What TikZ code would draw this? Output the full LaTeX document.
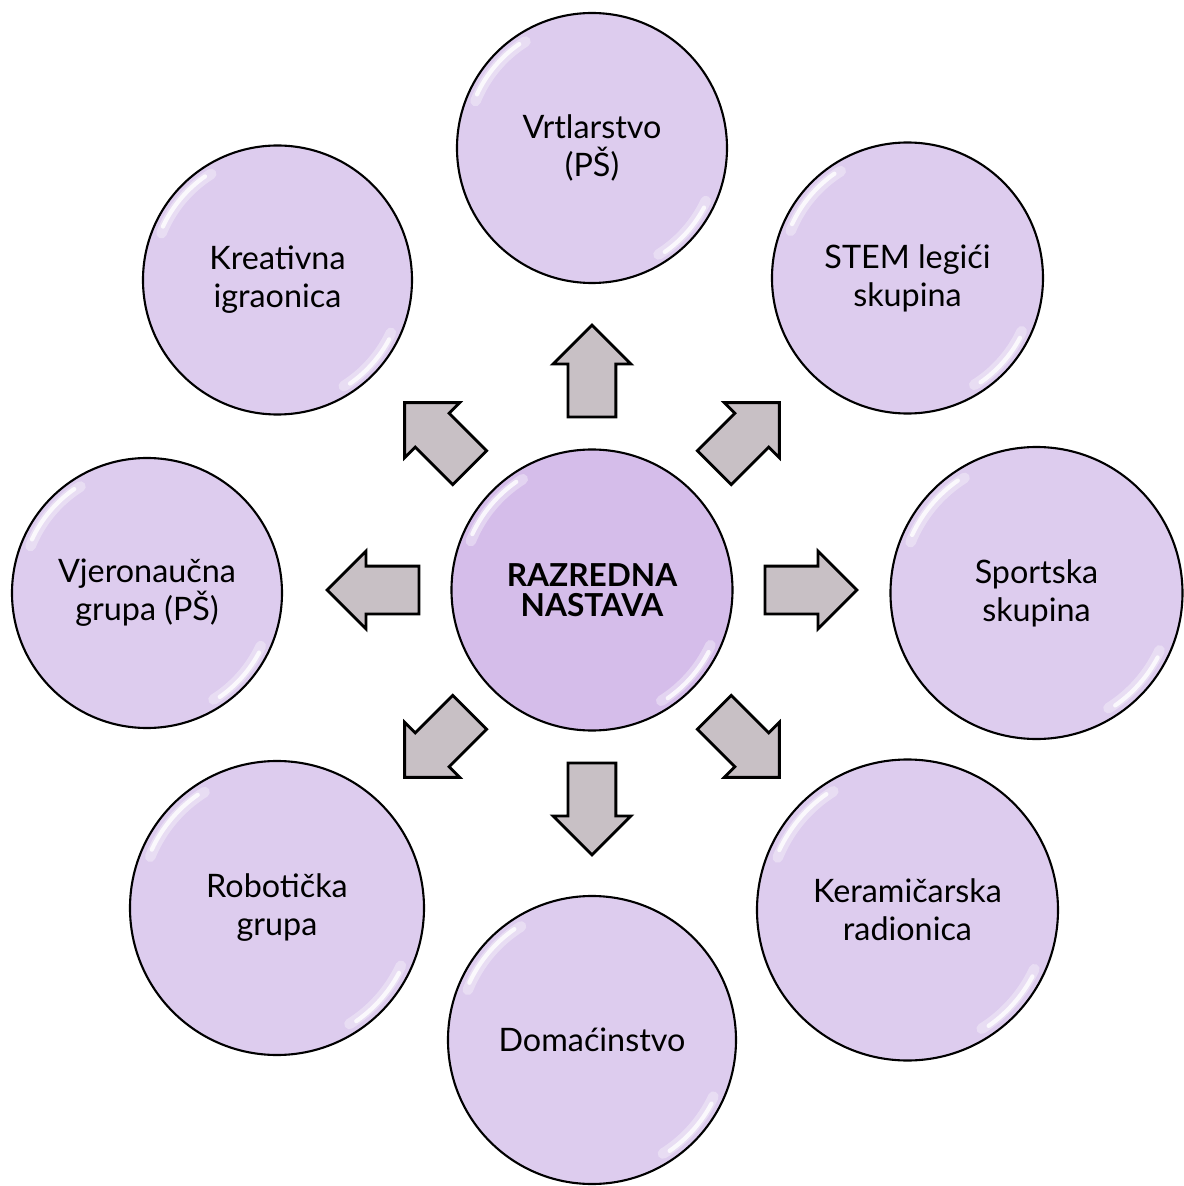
\documentclass[tikz,border=0pt]{standalone}
\usepackage{fontspec}
\setmainfont{Lato}
\usepackage{tikz}
\usetikzlibrary{shapes.arrows}
\usetikzlibrary{calc}

\definecolor{lila}{RGB}{221,204,238}
\definecolor{lilahub}{RGB}{213,189,234}
\definecolor{sivo}{RGB}{200,192,197}

\tikzset{
	gloss/.style={path picture={
			\pgfpointdiff{\pgfpointanchor{path picture bounding box}{center}}{\pgfpointanchor{path picture bounding box}{east}}
			\pgfgetlastxy{\rr}{\rdummy}
			\draw[white, opacity=0.35, line width=3pt, line cap=round] ($(path picture bounding box.center)+(122:0.93*\rr)$) arc[start angle=122, end angle=158, radius=0.93*\rr];
			\draw[white, opacity=0.8, line width=1.2pt, line cap=round] ($(path picture bounding box.center)+(125:0.94*\rr)$) arc[start angle=125, end angle=155, radius=0.94*\rr];
			\draw[white, opacity=0.35, line width=3pt, line cap=round] ($(path picture bounding box.center)+(-58:0.93*\rr)$) arc[start angle=-58, end angle=-25, radius=0.93*\rr];
			\draw[white, opacity=0.8, line width=1.2pt, line cap=round] ($(path picture bounding box.center)+(-55:0.94*\rr)$) arc[start angle=-55, end angle=-28, radius=0.94*\rr];
	}},
	club/.style={circle, draw=black, line width=0.6pt, fill=lila, align=center, inner sep=0pt, font=\fontsize{9.2}{10.8}\selectfont, gloss},
	hub/.style={club, fill=lilahub, font=\bfseries\fontsize{9}{8.6}\selectfont},
	blockarrow/.style={single arrow, draw=black, line width=0.8pt, fill=sivo, minimum height=0.92cm, single arrow head extend=0.15cm, inner xsep=0pt, inner ysep=0.225cm}
}

\begin{document}
\begin{tikzpicture}[scale=1]
	\useasboundingbox (-5.92,-5.96) rectangle (5.91,5.90);
	\def\ar{2.07}
	% centre
	\node[hub, minimum size=2.81cm] (RN) at (0,0) {RAZREDNA\\NASTAVA};
	% skupine
	\node[club, minimum size=2.70cm] (VR) at (0,4.42) {Vrtlarstvo\\(PŠ)};
	\node[club, minimum size=2.71cm] (ST) at (3.155,3.12) {STEM legići\\skupina};
	\node[club, minimum size=2.92cm] (SP) at (4.445,-0.03) {Sportska\\skupina};
	\node[club, minimum size=3.01cm] (KE) at (3.155,-3.20) {Keramičarska\\radionica};
	\node[club, minimum size=2.88cm] (DO) at (0,-4.50) {Domaćinstvo};
	\node[club, minimum size=2.94cm] (RO) at (-3.15,-3.18) {Robotička\\grupa};
	\node[club, minimum size=2.70cm] (VJ) at (-4.45,-0.03) {Vjeronaučna\\grupa (PŠ)};
	\node[club, minimum size=2.69cm] (KR) at (-3.145,3.10) {Kreativna\\igraonica};
	% strelice
	\node[blockarrow, rotate=90] (aVR) at (90:\ar) {};
	\node[blockarrow, rotate=45] (aST) at (45:\ar) {};
	\node[blockarrow, rotate=0] (aSP) at (0:\ar) {};
	\node[blockarrow, rotate=-45] (aKE) at (-45:\ar) {};
	\node[blockarrow, rotate=-90] (aDO) at (-90:\ar) {};
	\node[blockarrow, rotate=-135] (aRO) at (-135:\ar) {};
	\node[blockarrow, rotate=180] (aVJ) at (180:\ar) {};
	\node[blockarrow, rotate=135] (aKR) at (135:\ar) {};
\end{tikzpicture}
\end{document}
